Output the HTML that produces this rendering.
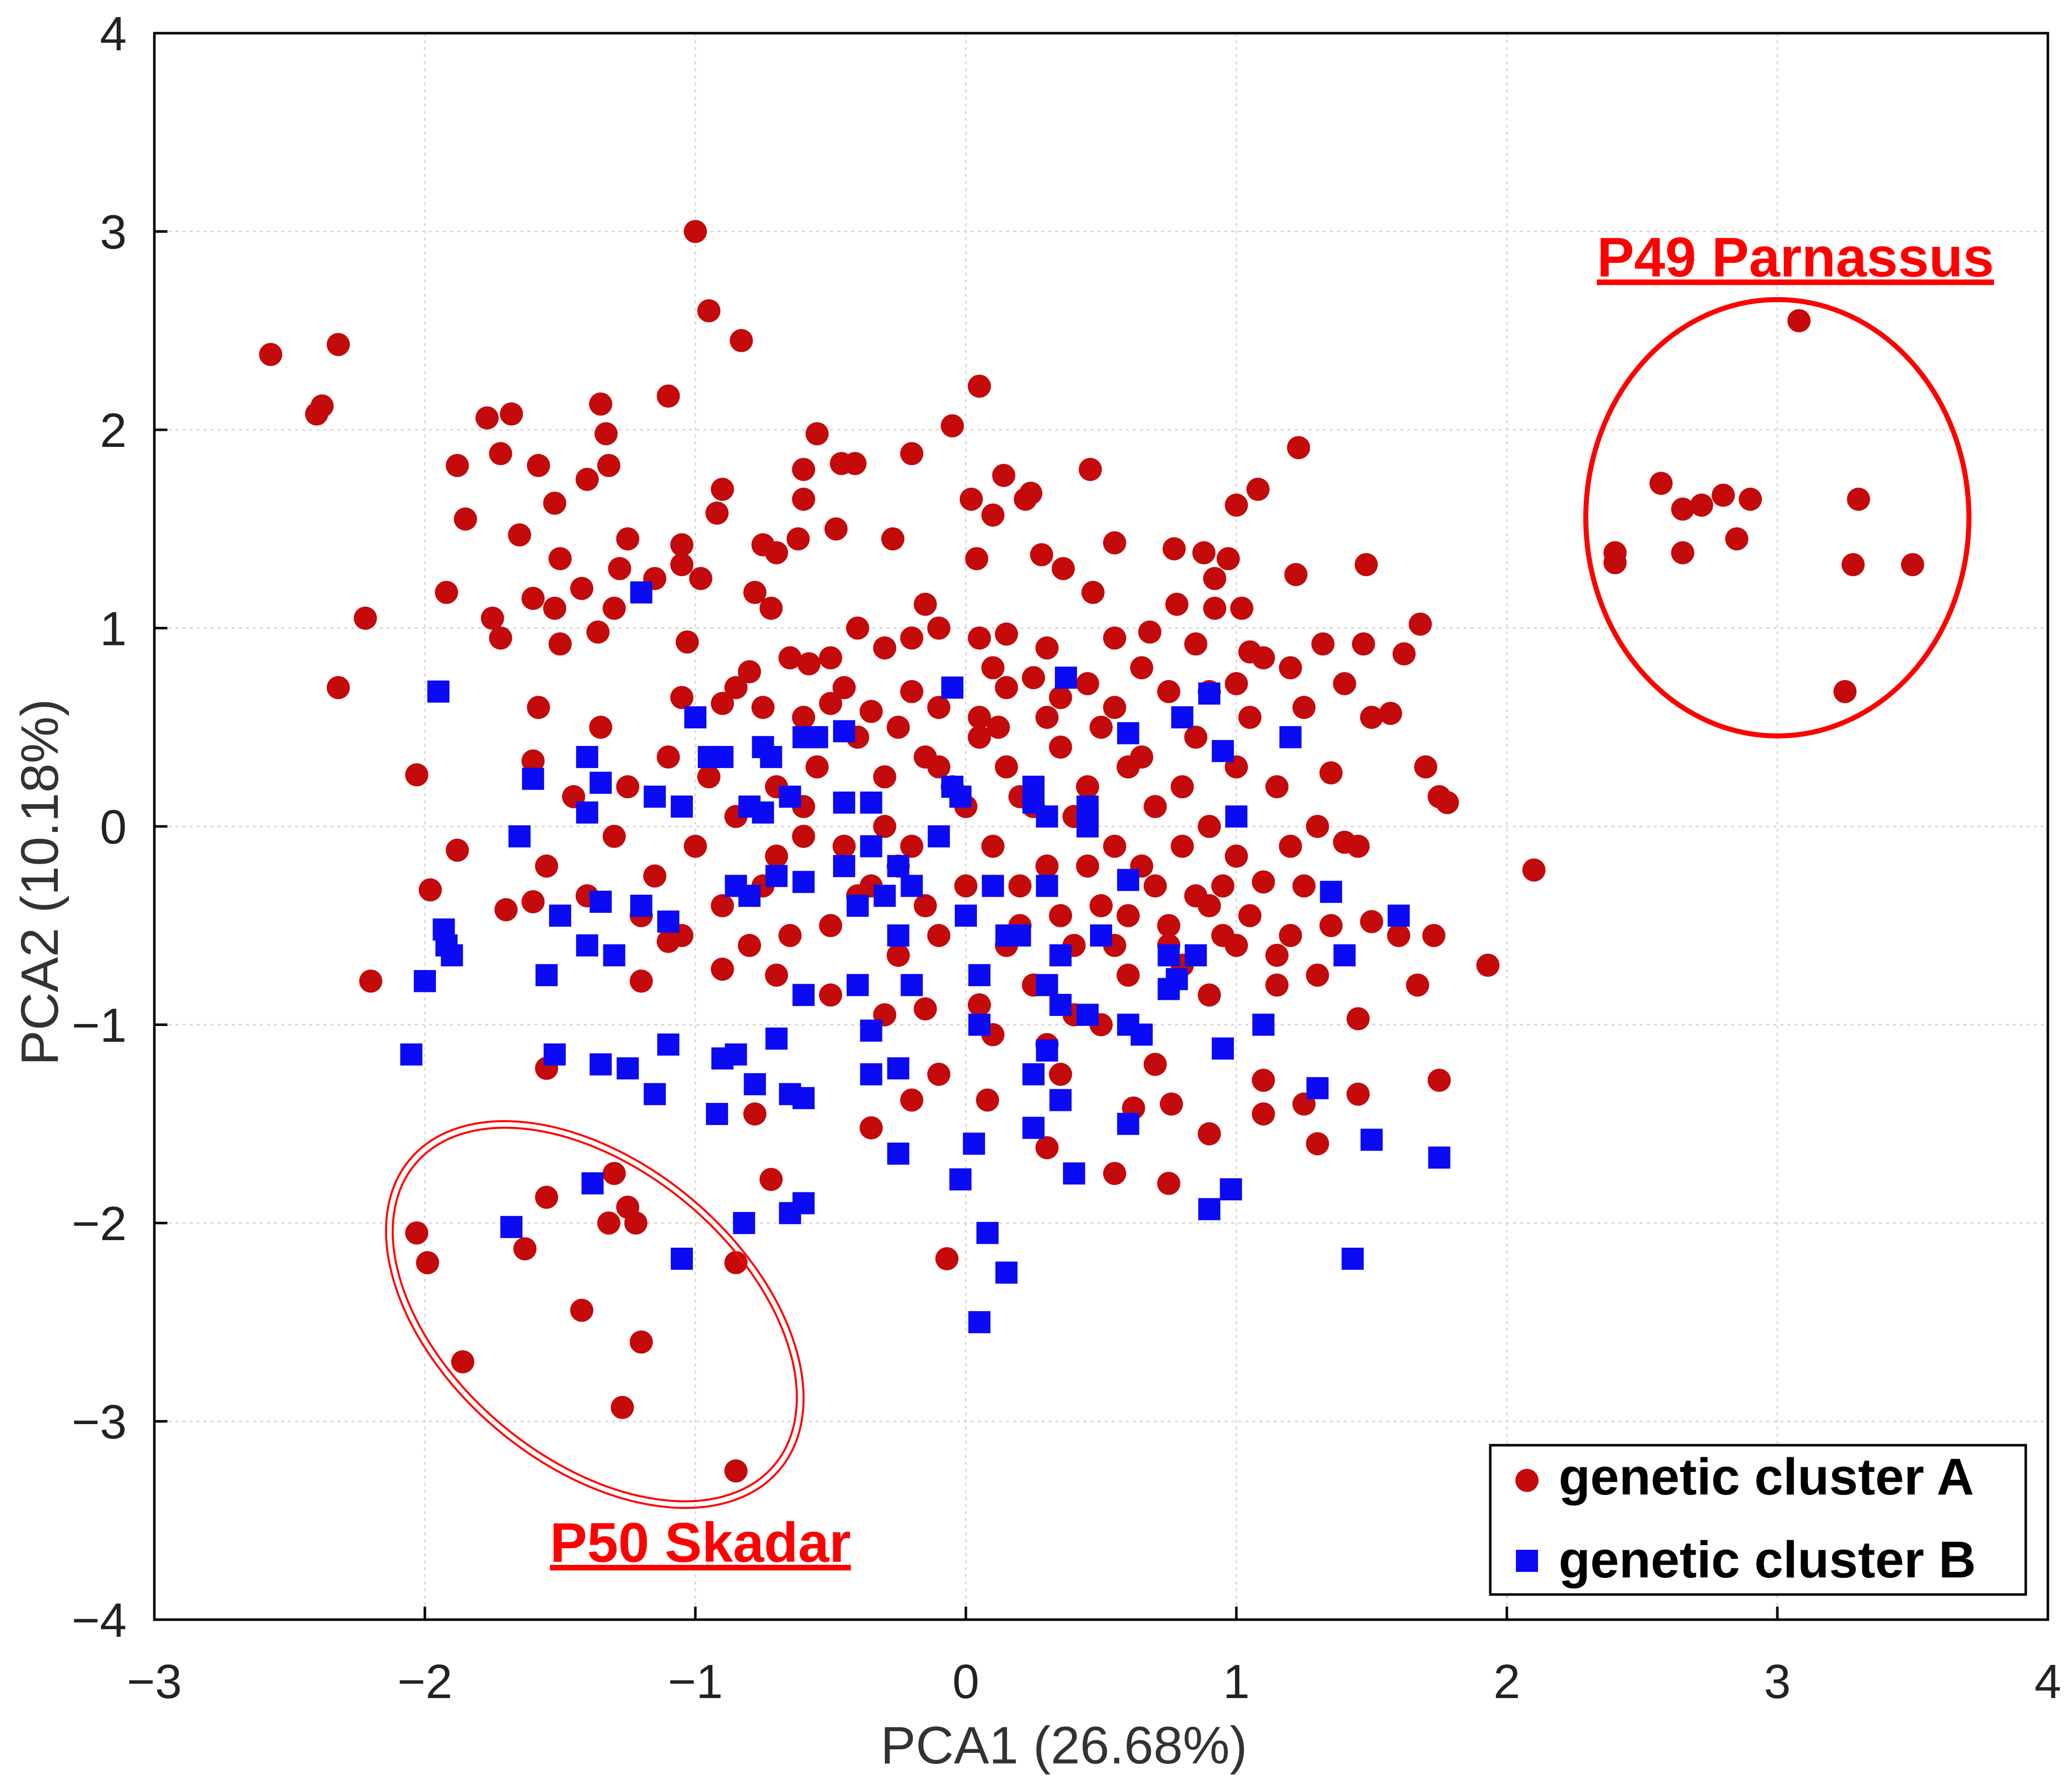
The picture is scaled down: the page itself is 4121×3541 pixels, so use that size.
<!DOCTYPE html>
<html><head><meta charset="utf-8"><style>
html,body{margin:0;padding:0;background:#fff;}
svg{display:block;font-family:"Liberation Sans",Arial,sans-serif;}
</style></head><body>
<svg id="chart" width="4121" height="3541" viewBox="0 0 4121 3541" xmlns="http://www.w3.org/2000/svg">
<rect width="4121" height="3541" fill="#fff"/>
<g id="grid"></g>
<g id="points"></g>
<g id="frame"></g>
<g id="labels"></g>
</svg>
<script>
const xTicks=[-3,-2,-1,0,1,2,3,4];
const yTicks=[-4,-3,-2,-1,0,1,2,3,4];
const clusterA=[[-1,3.0],[-0.95,2.6],[-0.83,2.45],[0.05,2.22],[-2.57,2.38],[-2.32,2.43],[-2.4,2.08],[-2.38,2.12],[-1.1,2.17],[-1.68,2.08],[-1.77,2.06],[-1.35,2.13],[-0.05,2.02],[-0.55,1.98],[-1.33,1.98],[-1.72,1.88],[-1.88,1.82],[-1.58,1.82],[-1.32,1.82],[-1.4,1.75],[-0.9,1.7],[-0.6,1.8],[-0.46,1.83],[-0.41,1.83],[-0.2,1.88],[0.46,1.8],[0.14,1.77],[0.24,1.68],[0.22,1.65],[0.02,1.65],[0.1,1.57],[-0.6,1.65],[-1.52,1.63],[-1.85,1.55],[-1.65,1.47],[-0.92,1.58],[-0.48,1.5],[-0.27,1.45],[-1.25,1.45],[-1.05,1.42],[-0.75,1.42],[-0.62,1.45],[-0.7,1.38],[-1.5,1.35],[-1.28,1.3],[-1.05,1.32],[-0.98,1.25],[-1.15,1.25],[-1.42,1.2],[-1.92,1.18],[-1.6,1.15],[-1.52,1.1],[-1.3,1.1],[-0.78,1.18],[-0.72,1.1],[0.04,1.35],[0.28,1.37],[0.36,1.3],[0.55,1.43],[0.77,1.4],[0.88,1.38],[0.97,1.35],[1.22,1.27],[0.92,1.25],[1.48,1.32],[1.68,1.02],[1.47,0.92],[1.32,0.92],[1.2,0.8],[1.05,0.88],[0.85,0.92],[0.68,0.98],[1.0,1.62],[1.08,1.7],[1.23,1.91],[0.92,1.1],[1.02,1.1],[0.78,1.12],[0.47,1.18],[-0.15,1.12],[-0.1,1.0],[0.05,0.95],[0.15,0.97],[-0.2,0.95],[-0.3,0.9],[-0.4,1.0],[-0.5,0.85],[-0.58,0.82],[-0.8,0.78],[-0.85,0.7],[-1.03,0.93],[-1.36,0.98],[-1.5,0.92],[-1.72,0.95],[-1.75,1.05],[-2.22,1.05],[-2.32,0.7],[-1.58,0.6],[-1.35,0.5],[-1.05,0.65],[-0.9,0.62],[-0.75,0.6],[-0.6,0.55],[-0.5,0.62],[-0.35,0.58],[-0.2,0.68],[-0.1,0.6],[0.05,0.55],[0.15,0.7],[0.25,0.75],[0.35,0.65],[0.45,0.72],[0.55,0.6],[0.65,0.8],[0.75,0.68],[0.9,0.68],[1.0,0.72],[1.1,0.85],[1.25,0.6],[1.4,0.72],[1.5,0.55],[1.57,0.57],[1.62,0.87],[1.7,0.3],[1.75,0.15],[1.78,0.12],[2.1,-0.22],[1.93,-0.7],[1.73,-0.55],[1.67,-0.8],[1.75,-1.28],[1.5,-0.48],[1.45,-0.97],[1.45,-1.35],[1.4,-0.08],[1.35,0.27],[1.3,0.0],[1.25,-0.3],[1.2,-0.55],[1.1,-0.28],[1.15,-0.65],[1.05,-0.45],[1.0,-0.15],[0.95,-0.55],[0.9,-0.85],[0.85,-0.35],[0.8,-0.7],[0.75,-0.5],[0.7,0.1],[0.65,-0.2],[0.6,0.3],[0.55,-0.1],[0.5,-0.4],[0.45,0.2],[0.4,-0.6],[0.35,0.4],[0.3,-0.2],[0.25,0.1],[0.2,-0.5],[0.15,0.3],[0.1,-0.1],[0.05,0.45],[0.0,-0.3],[-0.05,0.2],[-0.1,-0.55],[-0.15,0.35],[-0.2,-0.1],[-0.25,-0.65],[-0.3,0.25],[-0.35,-0.3],[-0.4,0.45],[-0.45,-0.1],[-0.5,-0.5],[-0.55,0.3],[-0.6,-0.05],[-0.65,-0.55],[-0.7,0.2],[-0.75,-0.3],[-0.8,-0.6],[-0.85,0.05],[-0.9,-0.4],[-0.95,0.25],[-1.0,-0.1],[-1.05,-0.55],[-1.1,0.35],[-1.15,-0.25],[-1.2,-0.45],[-1.25,0.2],[-1.3,-0.05],[-1.4,-0.35],[-1.45,0.15],[-1.55,-0.2],[-1.6,-0.38],[-1.6,0.33],[-1.7,-0.42],[-1.88,-0.12],[-1.98,-0.32],[-2.03,0.26],[-2.2,-0.78],[-1.2,-0.78],[-1.1,-0.58],[-0.9,-0.72],[-0.7,-0.75],[-0.5,-0.85],[-0.3,-0.95],[-0.15,-0.92],[0.05,-0.9],[0.25,-0.8],[0.4,-0.95],[0.3,-1.1],[0.5,-1.0],[0.6,-0.75],[0.7,-1.2],[0.35,-1.25],[0.1,-1.05],[-0.1,-1.25],[-0.2,-1.38],[0.08,-1.38],[0.3,-1.62],[-0.35,-1.52],[0.55,-1.75],[0.62,-1.42],[0.76,-1.4],[0.75,-1.8],[0.9,-1.55],[1.1,-1.28],[1.1,-1.45],[1.25,-1.4],[1.3,-1.6],[-0.72,-1.78],[-0.78,-1.45],[-1.55,-1.22],[-0.07,-2.18],[-0.3,0.0],[0.2,0.15],[0.4,0.05],[0.6,-0.45],[0.8,0.2],[0.9,0.0],[1.0,0.3],[0.7,-0.3],[0.5,0.5],[0.1,0.8],[-0.1,0.3],[0.3,0.9],[0.0,0.1],[0.2,-0.3],[0.45,-0.2],[0.85,0.45],[0.95,-0.3],[0.65,0.35],[0.8,-0.1],[1.15,0.2],[1.2,-0.1],[1.05,0.55],[0.55,0.95],[0.3,0.55],[0.12,0.5],[-0.25,0.5],[-0.45,0.7],[-0.65,0.85],[-0.7,-0.15],[-0.6,0.1],[-0.4,-0.35],[-0.25,-0.2],[-0.15,-0.4],[0.15,-0.6],[0.35,-0.45],[0.55,-0.6],[0.75,-0.6],[0.9,-0.4],[1.0,-0.6],[1.15,-0.8],[1.3,-0.75],[1.35,-0.5],[1.45,-0.1],[1.6,-0.55],
[-2.03,-2.05],[-1.99,-2.2],[-1.86,-2.7],[-1.63,-2.13],[-1.55,-1.87],[-1.42,-2.44],[-1.32,-2.0],[-1.3,-1.75],[-1.27,-2.93],[-1.25,-1.92],[-1.22,-2.0],[-1.2,-2.6],[-0.85,-2.2],[-0.85,-3.25],
[3.08,2.55],[2.57,1.73],[2.65,1.6],[2.72,1.62],[2.8,1.67],[2.9,1.65],[2.85,1.45],[2.65,1.38],[2.4,1.38],[2.4,1.33],[3.3,1.65],[3.28,1.32],[3.5,1.32],[3.25,0.68]];
const clusterB=[[-2.05,-1.15],[-2.0,-0.78],[-1.93,-0.52],[-1.9,-0.65],[-1.92,-0.6],[-1.95,0.68],[-1.65,-0.05],[-1.6,0.24],[-1.55,-0.75],[-1.5,-0.45],[-1.52,-1.15],[-1.4,0.35],[-1.4,0.07],[-1.4,-0.6],[-1.35,0.22],[-1.35,-0.38],[-1.3,-0.65],[-1.2,-0.4],[-1.15,0.15],[-1.1,-0.48],[-1.05,0.1],[-1.0,0.55],[-0.95,0.35],[-0.9,0.35],[-1.2,1.18],[-0.8,0.1],[-0.8,-0.35],[-0.75,0.4],[-0.75,0.07],[-0.72,0.35],[-0.7,-0.25],[-0.65,0.15],[-0.6,0.45],[-0.55,0.45],[-0.6,-0.28],[-0.45,0.48],[-0.45,0.12],[-0.45,-0.2],[-0.4,-0.4],[-0.35,0.12],[-0.35,-0.1],[-0.3,-0.35],[-0.25,-0.2],[-0.2,-0.3],[-0.2,-0.8],[-0.1,-0.05],[-0.05,0.7],[-0.05,0.2],[-0.02,0.15],[0.0,-0.45],[0.05,-0.75],[0.1,-0.3],[0.15,-0.55],[0.2,-0.55],[0.25,0.2],[0.25,0.12],[0.3,0.05],[0.3,-0.3],[0.35,-0.65],[0.3,-0.8],[0.35,-0.9],[0.37,0.75],[0.45,0.1],[0.45,0.0],[0.5,-0.55],[0.45,-0.95],[0.6,0.47],[0.6,-0.27],[0.6,-1.0],[0.65,-1.05],[0.75,-0.65],[0.75,-0.82],[0.8,0.55],[0.85,-0.65],[0.9,0.67],[0.95,0.38],[1.0,0.05],[0.95,-1.12],[1.1,-1.0],[1.2,0.45],[1.35,-0.33],[1.4,-0.65],[1.6,-0.45],[1.3,-1.32],[1.5,-1.58],[1.75,-1.67],[1.43,-2.18],[0.9,-1.93],[0.98,-1.83],[0.78,-0.77],[0.6,-1.5],[0.4,-1.75],[0.35,-1.38],[0.25,-1.52],[0.25,-1.25],[0.3,-1.13],[0.15,-2.25],[0.08,-2.05],[0.05,-2.5],[0.03,-1.6],[-0.02,-1.78],[0.05,-1.0],[-0.25,-1.65],[-0.25,-1.22],[-0.35,-1.25],[-0.35,-1.03],[-0.4,-0.8],[-0.6,-0.85],[-0.6,-1.37],[-0.65,-1.35],[-0.6,-1.9],[-0.65,-1.95],[-0.7,-1.07],[-0.78,-1.3],[-0.85,-1.15],[-0.9,-1.17],[-0.82,-2.0],[-0.92,-1.45],[-1.1,-1.1],[-1.15,-1.35],[-1.25,-1.22],[-1.35,-1.2],[-1.38,-1.8],[-1.68,-2.02],[-1.05,-2.18],[-0.85,-0.3],[-0.25,-0.55]];

const NS="http://www.w3.org/2000/svg";
const L=307,R=4073,T=66,B=3222;
const X=v=>L+(v+3)/7*(R-L);
const Y=v=>B-(v+4)/8*(B-T);
function mk(tag,attrs,parent,text){const e=document.createElementNS(NS,tag);for(const k in attrs)e.setAttribute(k,attrs[k]);if(text!==undefined)e.textContent=text;parent.appendChild(e);return e;}
const grid=document.getElementById('grid'),pts=document.getElementById('points'),frame=document.getElementById('frame'),lab=document.getElementById('labels');
xTicks.forEach(t=>{
  const g=mk('line',{x1:X(t),x2:X(t),y1:T,y2:B,stroke:'#d8d8d8','stroke-width':3,'stroke-dasharray':'6 8'},grid);
  
  
  const tk=mk('line',{x1:X(t),x2:X(t),y1:B,y2:B-26,stroke:'#000','stroke-width':5},frame);
  
  
  const tl=mk('text',{x:X(t),y:3378,'font-size':96,'text-anchor':'middle',fill:'#222'},lab,(t<0?'\u2212'+(-t):''+t));
  
  
});
yTicks.forEach(t=>{
  const g=mk('line',{x1:L,x2:R,y1:Y(t),y2:Y(t),stroke:'#d8d8d8','stroke-width':3,'stroke-dasharray':'6 8'},grid);
  
  
  const tk=mk('line',{x1:L,x2:L+26,y1:Y(t),y2:Y(t),stroke:'#000','stroke-width':5},frame);
  
  
  const tl=mk('text',{x:252,y:Y(t)+34,'font-size':96,'text-anchor':'end',fill:'#222'},lab,(t<0?'\u2212'+(-t):''+t));
  
  
});
clusterA.forEach(p=>{
  const c=mk('circle',{cx:X(p[0]),cy:Y(p[1]),r:23,fill:'#c40a0a'},pts);
  
  
});
clusterB.forEach(p=>{
  const s=mk('rect',{x:X(p[0])-22,y:Y(p[1])-22,width:44,height:44,fill:'#0a0af5'},pts);
  
  
});
</script>
<script>
(function(){
const NS="http://www.w3.org/2000/svg";
const svg=document.getElementById('chart');
function mk(tag,attrs,text){const e=document.createElementNS(NS,tag);for(const k in attrs)e.setAttribute(k,attrs[k]);if(text!==undefined)e.textContent=text;svg.appendChild(e);return e;}
let e;
e=mk('rect',{x:307,y:66,width:3766,height:3156,fill:'none',stroke:'#000','stroke-width':5});


e=mk('ellipse',{cx:3535,cy:1030,rx:381,ry:434,fill:'none',stroke:'#f00','stroke-width':10});


e=mk('ellipse',{cx:1183,cy:2615,rx:480,ry:300,fill:'none',stroke:'#f00','stroke-width':4,transform:'rotate(40 1183 2615)'});


e=mk('ellipse',{cx:1183,cy:2615,rx:466,ry:287,fill:'none',stroke:'#f00','stroke-width':4,transform:'rotate(40 1183 2615)'});


e=mk('text',{x:3571,y:550,'font-size':111,'font-weight':'bold',fill:'#f00','text-anchor':'middle','text-decoration':'underline'},'P49 Parnassus');


e=mk('text',{x:1393,y:3107,'font-size':111,'font-weight':'bold',fill:'#f00','text-anchor':'middle','text-decoration':'underline'},'P50 Skadar');


e=mk('text',{x:2116,y:3508,'font-size':105,fill:'#333','text-anchor':'middle'},'PCA1 (26.68%)');


e=mk('text',{x:115,y:1755,'font-size':105,fill:'#333','text-anchor':'middle',transform:'rotate(-90 115 1755)'},'PCA2 (10.18%)');


e=mk('rect',{x:2964,y:2875,width:1065,height:297,fill:'#fff',stroke:'#000','stroke-width':5});


e=mk('circle',{cx:3037,cy:2945,r:23,fill:'#c40a0a'});


e=mk('text',{x:3100,y:2973,'font-size':103,'font-weight':'bold',fill:'#000'},'genetic cluster A');


e=mk('rect',{x:3015,y:3083,width:44,height:44,fill:'#0a0af5'});


e=mk('text',{x:3100,y:3138,'font-size':103,'font-weight':'bold',fill:'#000'},'genetic cluster B');


})();
</script>
</body></html>
